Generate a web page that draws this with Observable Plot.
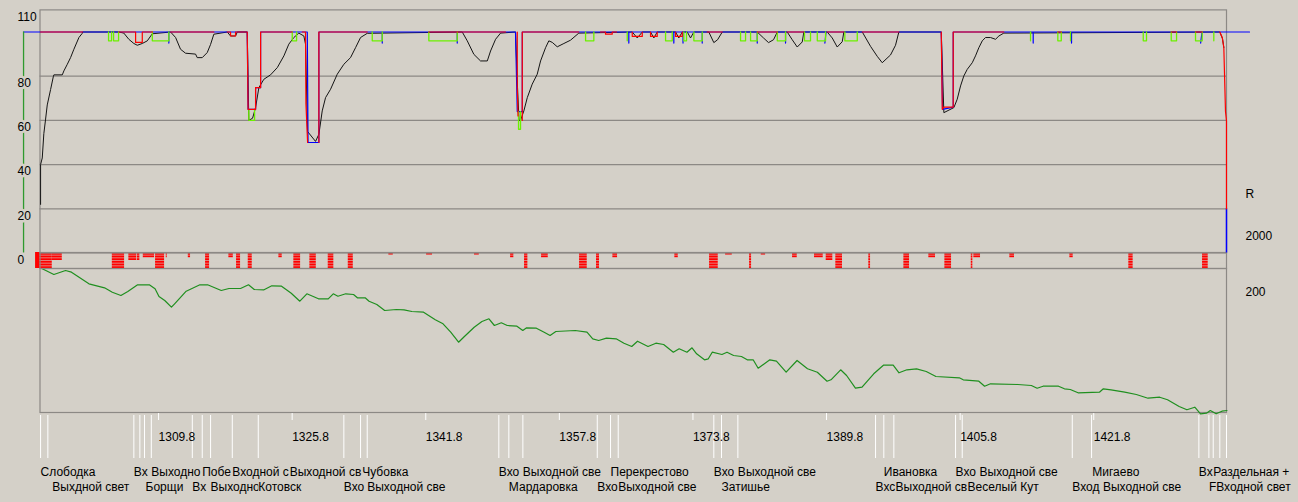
<!DOCTYPE html>
<html><head><meta charset="utf-8">
<script src="https://cdn.jsdelivr.net/npm/d3@7"></script>
<script src="https://cdn.jsdelivr.net/npm/@observablehq/plot@0.6"></script>
<style>
html,body{margin:0;padding:0;background:#d4d0c8;}
#chart{position:relative;width:1298px;height:502px;background:#d4d0c8;overflow:hidden;font-family:"Liberation Sans",Arial,sans-serif;}
#chart svg{position:absolute;left:0;top:0;overflow:visible;}
</style></head><body><div id="chart"></div>
<script>
const BG = "#d4d0c8";
const GRID = "#8c8985";
const kmDomain = [1295.6, 1437.7];

// speed axis
const speedTicks = [110, 80, 60, 40, 20, 0];
const speedGrid = [20, 40, 60, 80];
const radiusLabels = [["R", 30], ["2000", 11]];
const elevationTick = [200];
const kmTicks = [1309.8, 1325.8, 1341.8, 1357.8, 1373.8, 1389.8, 1405.8, 1421.8];

// permanent speed limit (blue)
const permanentLimit = [
[1293.63,100],[1311.03,100],[1311.03,95],[1311.03,100],
[1320.42,100],[1320.52,65],[1321.42,65],[1321.42,74.8],[1322.02,74.8],[1322.02,100],
[1327.61,100],[1327.7,50],[1329.0,50],[1329.0,100],
[1336.59,100],[1336.59,95],[1336.59,100],
[1345.57,100],[1345.57,95],[1345.57,100],
[1352.55,100],[1352.76,64],[1353.36,64],[1353.36,100],
[1366.12,100],[1366.12,95],[1366.12,100],
[1371.51,100],[1371.51,95],[1371.51,100],
[1372.61,100],[1372.61,95],[1372.61,100],
[1374.91,100],[1374.91,95],[1374.91,100],
[1381.5,100],[1381.5,95],[1381.5,100],
[1384.89,100],[1384.89,95],[1384.89,100],
[1389.74,100],[1389.6,95],[1389.74,100],
[1403.54,100],[1403.69,65],[1404.97,66],[1404.97,100],
[1414.55,100],[1414.55,95],[1414.55,100],
[1419.14,100],[1419.14,95],[1419.14,100],
[1434.77,100],[1434.6,95],[1434.77,100],
[1440.46,100]
];

// target speed (red)
const targetSpeed = [
[[1295.67,100],[1300.7,100]],
[[1305.05,100],[1307.05,100],[1307.05,95.3],[1307.85,95.3],[1307.85,100],[1309.08,100]],
[[1311.24,100],[1316.42,100]],
[[1318.03,100],[1318.42,100],[1318.42,98.2],[1319.02,98.2],[1319.02,100],[1320.42,100],[1320.52,65],[1321.42,65],[1321.42,74.8],[1322.02,74.8],[1322.02,100],[1325.81,100]],
[[1327.01,100],[1327.4,100],[1327.45,67.5],[1327.65,50]],
[[1329.0,50],[1329.0,100],[1334.79,100]],
[[1342.17,100],[1351.36,100]],
[[1352.76,100],[1352.76,74.8],[1352.85,62]],
[[1353.36,60],[1353.36,100],[1360.13,100]],
[[1362.73,100],[1363.33,100],[1363.33,99],[1364.13,99],[1364.13,100],[1364.65,100]],
[[1366.53,100],[1366.53,98],[1367.73,98],[1367.73,100]],
[[1368.72,100],[1368.72,98],[1369.52,98],[1369.52,100]],
[[1371.72,100],[1371.72,98],[1372.52,98],[1372.52,100]],
[[1375.51,100],[1377.31,100]],
[[1381.5,100],[1383.9,100]],
[[1385.09,100],[1387.08,100]],
[[1389.88,100],[1391.87,100]],
[[1394.08,100],[1398.46,100]],
[[1403.54,100],[1403.66,65],[1403.85,66],[1404.97,66],[1404.97,100],[1411.03,100]],
[[1417.5,100],[1417.91,100]],
[[1431.08,100],[1431.72,100]],
[[1433.99,100],[1434.79,100]],
[[1436.9,100],[1437.19,97.5],[1437.38,93],[1437.58,64],[1437.7,59.8],[1437.7,20]]
];

// temporary restrictions (green): from km, to km, speed, top
const restrictions = [
[1303.81,1304.17,96],[1304.41,1305.01,96],[1309.05,1311.03,96],
[1320.61,1321.3,60,65],[1325.81,1326.33,96],[1335.39,1336.59,96],
[1342.17,1345.57,96],[1352.91,1353.15,56,64],[1360.94,1361.93,96],
[1365.93,1365.93,96],[1370.52,1371.32,96],[1372.71,1373.03,96],
[1373.91,1374.91,96],[1379.5,1380.1,96],[1380.7,1381.5,96],
[1383.9,1384.89,96],[1387.16,1387.88,96],[1388.69,1389.68,96],
[1391.99,1393.48,96],[1414.23,1414.23,96],[1417.5,1417.91,96],
[1419.02,1419.02,96],[1427.73,1428.12,96],[1431.08,1431.72,96],
[1433.99,1434.79,96],[1436.18,1436.18,96]
];
const startMarkerKm = [1293.63];

// actual speed (black)
const actualSpeed = [
[1295.67,22],[1295.67,40],[1295.87,43],[1296.06,54],[1296.27,60.6],[1296.47,67],[1296.87,74],[1297.19,79.7],[1297.26,80.6],[1298.27,80.6],[1298.46,82.4],[1298.87,85.4],[1299.26,88.4],[1299.66,92.2],[1300.26,97.5],[1300.66,99.4],[1300.7,100],
[1305.05,100],[1305.64,99.5],[1306.24,96.7],[1306.84,94.8],[1307.25,94],[1307.85,94.8],[1308.45,96],[1309.05,99.2],
[1311.24,100],[1311.84,97.5],[1312.43,92.2],[1313.03,90.4],[1314.23,90],[1314.43,88.4],[1315.03,88.4],[1315.63,90.7],[1316.03,94.4],[1316.42,99],
[1318.03,100],[1318.42,98.2],[1319.02,98.2],[1319.23,100],[1320.42,100],[1320.61,60],[1321.06,61],[1321.42,65.8],[1321.81,74.8],[1322.41,78.6],[1323.21,80.6],[1324.02,83.9],[1324.81,89.2],[1325.4,94.5],[1326.0,97.5],[1326.6,99.5],[1327.2,98.2],[1327.4,94.5],[1327.64,55],[1328.6,50.5],[1329.0,53.7],[1329.4,64.3],[1329.8,70.3],[1330.4,74.1],[1331.2,80.9],[1331.99,85.4],[1332.79,88.4],[1333.39,92.9],[1333.99,97.5],[1334.79,99.4],
[1346.17,100],[1346.77,96],[1347.56,89.9],[1348.36,86.9],[1349.17,86.9],[1349.56,91.4],[1350.16,96.7],[1350.76,99.5],
[1352.55,100],[1352.79,75],[1352.97,60],[1353.15,60],[1353.55,64.3],[1353.96,70.3],[1354.55,76.4],[1355.15,80.9],[1355.55,86.9],[1356.15,92.9],[1356.54,96],[1356.95,95.3],[1357.55,93.3],[1358.34,94.8],[1359.14,96.3],[1360.13,99.5],
[1366.53,100],[1367.13,97.3],[1367.73,100],
[1368.72,100],[1369.12,97.3],[1369.52,100],
[1371.72,100],[1372.11,97.3],[1372.52,100],
[1373.12,100],[1373.51,97.3],[1373.91,100],
[1375.7,100],[1376.3,95.2],[1376.75,96.5],[1377.31,100],
[1381.5,100],[1382.25,97.3],[1382.85,95.2],[1383.45,96.5],[1383.9,100],
[1385.09,100],[1385.69,96.5],[1386.29,93.2],[1386.89,95.5],[1387.08,100],
[1389.88,100],[1390.48,97.3],[1391.08,93.2],[1391.68,95.6],[1391.87,100],
[1394.08,100],[1395.07,93.5],[1395.87,89],[1396.47,86.1],[1397.46,89.6],[1398.06,94],[1398.46,100],
[1403.54,100],[1403.85,63.5],[1405.05,65.8],[1405.45,69.6],[1405.85,75.6],[1406.24,80.1],[1406.65,83.1],[1407.25,86.1],[1407.64,89.2],[1408.04,92.9],[1408.45,96],[1408.84,97.5],[1409.44,97.5],[1410.04,96.7],[1410.44,98.2],[1411.03,99.5],
[1436.9,100],[1437.22,97],[1437.38,93]
];

// events: from km, to km, rows (of 6)
const events = [
[1295.07,1297.07,6],[1297.07,1298.27,3],[1304.26,1305.73,6],[1306.24,1307.17,3],[1307.25,1307.56,3],
[1307.97,1309.32,2],[1309.44,1310.52,6],[1310.72,1310.84,2],[1313.36,1313.63,2],[1315.43,1315.91,6],
[1318.22,1318.75,2],[1319.14,1319.62,6],[1320.54,1321.02,6],[1324.21,1324.61,2],[1326.0,1326.81,6],
[1327.92,1328.69,6],[1330.12,1330.79,6],[1332.52,1333.12,6],[1337.38,1337.91,1],[1341.9,1342.61,1],
[1347.64,1348.21,1],[1351.96,1352.35,2],[1353.63,1354.03,6],[1355.67,1356.47,2],[1360.22,1361.14,6],
[1362.25,1362.61,6],[1364.21,1364.77,2],[1371.63,1372.04,2],[1375.79,1376.83,6],[1377.71,1378.51,1],
[1380.58,1380.82,6],[1381.98,1382.5,1],[1385.73,1386.29,2],[1388.36,1389.4,2],[1389.76,1390.55,3],
[1390.91,1391.71,6],[1394.86,1395.07,6],[1399.06,1399.74,6],[1402.05,1402.85,2],[1403.97,1404.77,6],
[1407.13,1407.32,6],[1407.44,1408.24,2],[1411.75,1412.31,2],[1418.94,1419.34,2],[1426.0,1426.52,6],
[1434.83,1435.51,6]
];
const eventRows = [1, 2, 3, 4, 5];

// elevation profile
const elevation = [
[1295.63,224.7],[1297.26,218],[1298.66,222],[1299.37,220.3],[1301.46,208.7],[1303.33,204.7],[1304.26,200.3],[1305.29,197],[1306.12,201],[1307.29,207.7],[1308.69,207.7],[1309.38,203.7],[1309.85,196],[1310.54,192],[1311.34,185.3],[1311.72,188.7],[1313.11,201.3],[1314.75,207.7],[1315.67,207.7],[1317.31,202],[1318.23,204],[1319.62,204],[1320.57,207.7],[1321.26,203],[1322.43,202.7],[1323.36,206.7],[1324.53,206.3],[1325.69,199.3],[1326.72,191.3],[1327.56,198.7],[1328.95,193.7],[1330.12,193.7],[1330.72,198.7],[1331.28,196.3],[1332.22,198.7],[1333.15,198],[1333.61,194.7],[1334.54,194.7],[1335.01,191.3],[1335.94,188],[1336.88,182],[1338.28,183],[1339.2,182.7],[1340.14,181],[1341.54,180.3],[1342.94,172.7],[1343.87,168.7],[1344.79,160.3],[1345.73,150.3],[1346.43,156],[1347.6,165.3],[1348.53,171],[1349.37,173.7],[1350.02,167],[1350.85,169.7],[1351.56,167],[1352.72,166.3],[1353.42,162],[1353.88,164.7],[1355.05,164.3],[1355.98,160.3],[1356.69,157],[1357.38,161],[1359.7,162],[1361.11,160.3],[1361.8,153.7],[1362.51,152],[1363.44,154.3],[1364.6,153.7],[1365.54,149.3],[1366.47,146],[1367.16,151.3],[1368.42,146],[1369.36,149.3],[1370.29,148],[1371.45,140.3],[1372.15,143.7],[1373.08,140.3],[1373.69,144.7],[1374.24,138.7],[1375.18,132.7],[1375.64,133.7],[1376.11,140.3],[1377.27,138],[1377.88,140.3],[1378.67,137],[1379.61,136],[1380.3,132.7],[1381.01,132.7],[1381.61,124.3],[1383.01,132.7],[1383.8,131.3],[1384.96,120.3],[1386.27,132],[1387.52,123.7],[1388.7,120.3],[1389.86,111.3],[1390.33,112.7],[1391.49,122.7],[1392.2,117],[1393.26,104.3],[1394.05,105.3],[1395.45,118.7],[1396.61,127.3],[1397.78,127.3],[1398.48,119.7],[1399.42,122.7],[1400.58,123.7],[1401.74,121],[1402.9,116],[1405.7,114.7],[1406.17,112.7],[1408.04,111.3],[1408.73,106.3],[1409.43,108.7],[1412.7,108],[1414.33,107],[1415.02,104.3],[1415.73,106.3],[1417.58,106.3],[1418.29,103.7],[1418.99,103],[1419.92,99.7],[1422.48,100.3],[1422.95,103.7],[1423.87,102.7],[1425.51,100.3],[1426.9,98],[1428.3,94.3],[1429.7,95.3],[1430.64,92.7],[1432.03,86],[1432.96,82.7],[1433.9,85.3],[1434.59,78.7],[1435.3,79.3],[1435.76,82],[1436.46,78.7],[1437.15,81.3],[1437.76,82]
];

// stations
const stationKm = [1295.67,1296.54,1306.84,1307.56,1308.12,1308.93,1313.84,1315.03,1316.03,1318.63,1321.74,1331.99,1333.99,1334.79,1350.55,1351.75,1353.43,1362.34,1363.93,1364.85,1376.3,1377.22,1379.18,1395.67,1396.66,1397.86,1405.25,1406.05,1419.23,1421.54,1434.39,1435.59,1436.11,1436.9,1437.7];
const stationNamesTop = [
[1295.67,"Слободка"],[1306.84,"Вх"],[1308.93,"Выходно"],[1315.03,"Побе"],[1318.63,"Входной с"],[1325.5,"Выходной св"],[1334.19,"Чубовка"],
[1350.55,"Вхо"],[1353.43,"Выходной све"],[1363.93,"Перекрестово"],[1376.3,"Вхо"],[1379.18,"Выходной све"],
[1396.66,"Ивановка"],[1405.25,"Вхо"],[1408.12,"Выходной све"],[1421.62,"Мигаево"],[1434.39,"Вх"],[1436.11,"Раздельная +"]
];
const stationNamesBottom = [
[1297.07,"Выхдной свет"],[1308.24,"Борщи"],[1313.84,"Вх"],[1316.03,"Выходно"],[1321.74,"Котовск"],[1331.99,"Вхо"],[1334.79,"Выходной све"],
[1351.75,"Мардаровка"],[1362.34,"Вхо"],[1364.85,"Выходной све"],[1377.22,"Затишье"],
[1395.67,"Вхс"],[1398.06,"Выходной св"],[1406.69,"Веселый Кут"],[1419.23,"Вход"],[1422.9,"Выходной све"],[1435.59,"F"],[1436.46,"Входной свет"]
];

// ---------- build ----------
const asPts = arr => arr.map(([km, v]) => ({km, v}));
const redData = targetSpeed.flatMap((s, i) => s.map(([km, v]) => ({km, v, seg: i})));
const greenData = restrictions.flatMap(([a, b, v, top], i) => {
  const t = top ?? 100;
  return [{km: a, v: t, seg: i}, {km: a, v, seg: i}, {km: b, v, seg: i}, {km: b, v: t, seg: i}];
});

const common = {
  width: 1298, height: 502, marginLeft: 39.5, marginRight: 72,
  x: {domain: kmDomain, axis: null},
  style: {background: "transparent", overflow: "visible", fontFamily: "Liberation Sans, Arial, sans-serif", fontSize: "12px"}
};
const txt = {fontSize: 12, fill: "#000", fontFamily: "Liberation Sans, Arial, sans-serif"};

const speedPlot = Plot.plot({
  ...common, marginTop: 9.4, marginBottom: 249.5,
  y: {domain: [0, 110], axis: null},
  marks: [
    Plot.ruleY(speedGrid, {stroke: GRID, strokeWidth: 1.2}),
    Plot.frame({stroke: GRID, strokeWidth: 1.2}),
    Plot.line(asPts(actualSpeed), {x: "km", y: "v", stroke: "#141414", strokeWidth: 1}),
    Plot.line(asPts(permanentLimit), {x: "km", y: "v", stroke: "#0000ff", strokeWidth: 1.2}),
    Plot.ruleX([kmDomain[1]], {y1: 0, y2: 20, stroke: "#0000ff", strokeWidth: 1.5}),
    Plot.ruleX(startMarkerKm, {y1: 0, y2: 100, stroke: "#2e9a2e", strokeWidth: 1.3}),
    Plot.line(greenData, {x: "km", y: "v", z: "seg", stroke: "#6cf000", strokeWidth: 1.3}),
    Plot.line(redData, {x: "km", y: "v", z: "seg", stroke: "#ff0000", strokeWidth: 1.2}),
    Plot.text(speedTicks, {y: d => d, text: d => String(d), frameAnchor: "left", dx: -22.5, dy: 7, textAnchor: "start", stroke: BG, strokeWidth: 5, paintOrder: "stroke", ...txt}),
    Plot.text(radiusLabels, {y: d => d[1], text: d => d[0], frameAnchor: "right", dx: 19, dy: 7, textAnchor: "start", ...txt})
  ]
});

const eventPlot = Plot.plot({
  ...common, marginTop: 252, marginBottom: 234,
  y: {domain: [0, 6], reverse: true, axis: null},
  marks: [
    Plot.rect(events, {x1: d => d[0], x2: d => d[1], y1: 0, y2: d => d[2], fill: "#ff0000"}),
    Plot.ruleY(eventRows, {stroke: BG, strokeWidth: 0.8, strokeOpacity: 0.75}),
    Plot.frame({stroke: GRID, strokeWidth: 1.2})
  ]
});

const elevPlot = Plot.plot({
  ...common, marginTop: 268, marginBottom: 90,
  y: {domain: [80, 224], axis: null},
  marks: [
    Plot.frame({stroke: GRID, strokeWidth: 1.2}),
    Plot.line(asPts(elevation), {x: "km", y: "v", stroke: "#1f8f1f", strokeWidth: 1.2}),
    Plot.text(elevationTick, {y: d => d, text: d => String(d), frameAnchor: "right", dx: 19, textAnchor: "start", ...txt})
  ]
});

const axisPlot = Plot.plot({
  ...common, marginTop: 412, marginBottom: 0,
  y: {domain: [0, 90], reverse: true, axis: null},
  marks: [
    Plot.ruleX(stationKm, {y1: 3, y2: 46, stroke: "#ffffff", strokeWidth: 1}),
    Plot.ruleX(kmTicks, {y1: 1, y2: 8, stroke: "#ffffff", strokeWidth: 1}),
    Plot.text(kmTicks, {x: d => d, y: 25, text: d => d.toFixed(1), textAnchor: "start", ...txt}),
    Plot.text(stationNamesTop, {x: d => d[0], y: 60, text: d => d[1], textAnchor: "start", stroke: BG, strokeWidth: 2, paintOrder: "stroke", ...txt}),
    Plot.text(stationNamesBottom, {x: d => d[0], y: 75, text: d => d[1], textAnchor: "start", stroke: BG, strokeWidth: 2, paintOrder: "stroke", ...txt})
  ]
});

const root = document.getElementById("chart");
for (const p of [elevPlot, eventPlot, axisPlot, speedPlot]) root.appendChild(p);
</script></body></html>
